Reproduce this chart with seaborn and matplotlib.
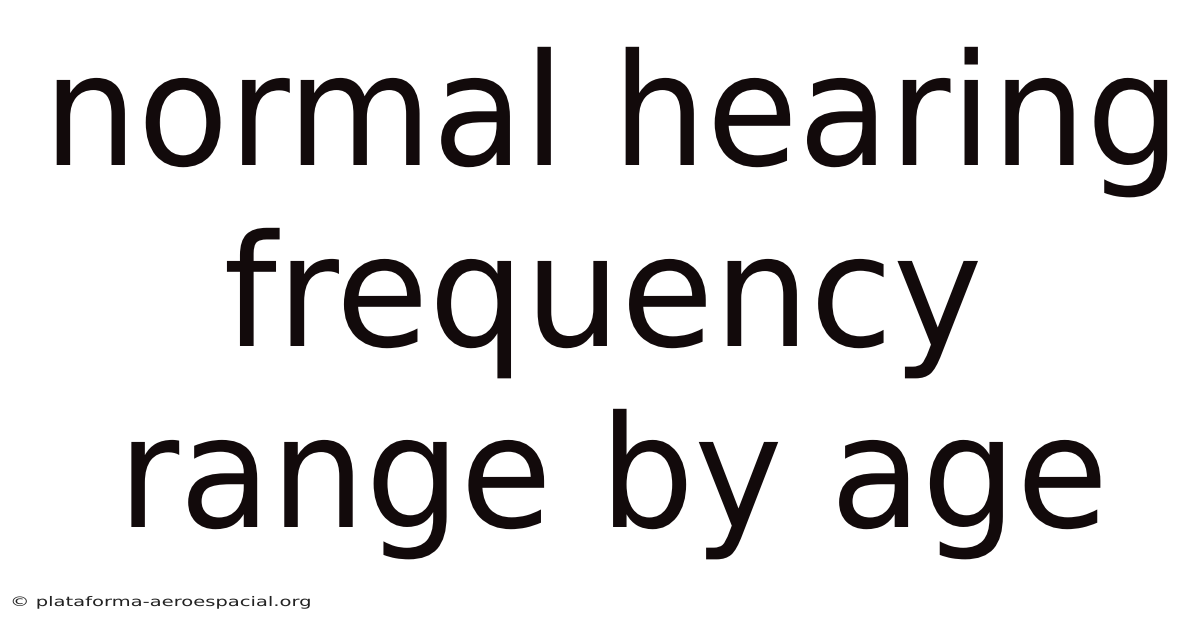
import matplotlib
matplotlib.use('Agg')
import matplotlib.pyplot as plt
import seaborn as sns
from matplotlib.patheffects import AbstractPathEffect
from matplotlib.transforms import Affine2D

#text content of the card
title_lines = ['normal hearing', 'frequency', 'range by age']
watermark = '\u00a9 plataforma-aeroespacial.org'


class HScale(AbstractPathEffect):
    """squeeze/stretch text horizontally around its anchor x, then shift by dx (pixels)"""
    def __init__(self, sx, anchor, dx=0):
        super().__init__()
        self.sx = sx
        self.anchor = anchor
        self.dx = dx

    def draw_path(self, renderer, gc, tpath, affine, rgbFace=None):
        t = affine + Affine2D().translate(-self.anchor, 0).scale(self.sx, 1) \
            .translate(self.anchor + self.dx, 0)
        renderer.draw_path(gc, tpath, t, rgbFace)


sns.set_theme(style='white')
plt.rcParams['font.family'] = ['DejaVu Sans']

W, H = 1200, 628
fig = plt.figure(figsize=(W / 100, H / 100), dpi=100)
fig.patch.set_facecolor('white')
ax = fig.add_axes([0, 0, 1, 1])
ax.set_axis_off()

#baselines (px from top), centre x and horizontal squeeze per line
baselines = [165, 346, 527]
centres = [612, 603, 613]
squeeze = [0.957, 0.973, 0.96]
for line, base, cx, sx in zip(title_lines, baselines, centres, squeeze):
    fig.text(0.5, 1 - base / H, line, ha='center', va='baseline',
             fontsize=112, color='#120a0b',
             path_effects=[HScale(sx, W / 2, cx - W / 2)])

fig.text(10 / W, 1 - 606 / H, watermark, ha='left', va='baseline',
         fontsize=9.5, color='#222222',
         path_effects=[HScale(1.48, 10)])

fig.savefig('out.png', dpi=100, facecolor='white')
